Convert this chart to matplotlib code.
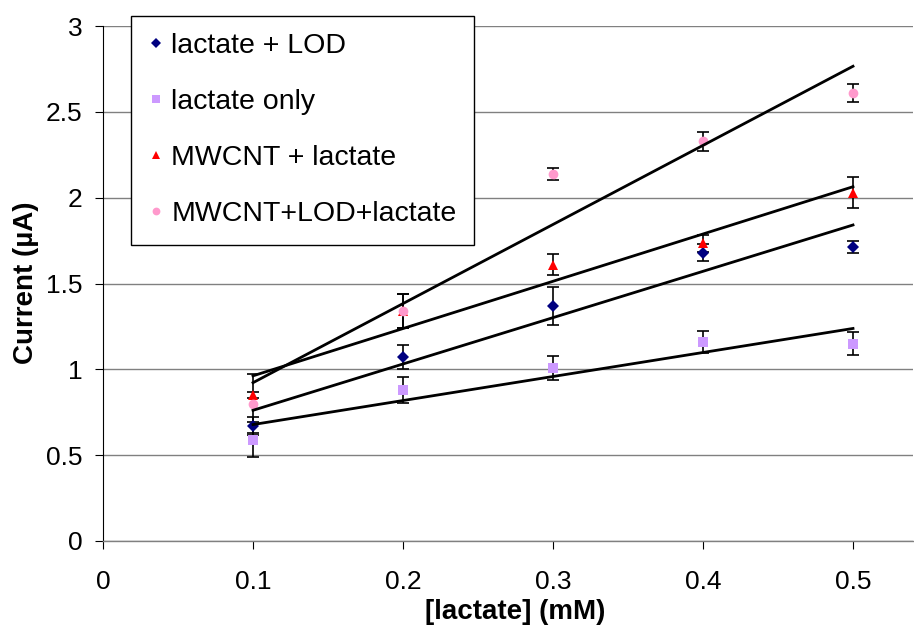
import matplotlib
matplotlib.use("Agg")
import matplotlib.pyplot as plt
from matplotlib.lines import Line2D
import numpy as np

plt.rcParams['font.family'] = ['Liberation Sans', 'DejaVu Sans']

# Data
conc = [0.1, 0.2, 0.3, 0.4, 0.5]
names = ["lactate + LOD", "lactate only", "MWCNT + lactate", "MWCNT+LOD+lactate"]
lod = [0.67, 1.07, 1.37, 1.68, 1.715]
lod_err = [0.05, 0.07, 0.11, 0.05, 0.035]
only = [0.59, 0.88, 1.01, 1.16, 1.15]
only_err = [0.10, 0.075, 0.07, 0.065, 0.065]
mw = [0.85, 1.34, 1.61, 1.735, 2.03]
mw_err = [0.02, 0.10, 0.06, 0.05, 0.09]
mwlod = [0.80, 1.34, 2.14, 2.33, 2.61]
mwlod_err = [0.17, 0.10, 0.035, 0.055, 0.05]
xticks = [0, 0.1, 0.2, 0.3, 0.4, 0.5]
yticks = [0, 0.5, 1, 1.5, 2, 2.5, 3]

series = [
    (lod, lod_err, 'D', '#000080', 6.0),
    (only, only_err, 's', '#CC99FF', 6.5),
    (mw, mw_err, '^', '#FF0000', 7.5),
    (mwlod, mwlod_err, 'o', '#FF99CC', 7.0),
]

fig = plt.figure(figsize=(9.14, 6.31), dpi=100)
ax = fig.add_axes([103/914, 1-540.9/631, 810/914, 514.8/631])

ax.set_xlim(0, 0.54)
ax.set_ylim(0, 3)
ax.set_xticks(xticks)
ax.set_xticklabels([f"{t:g}" for t in xticks])
ax.set_yticks(yticks)
ax.set_yticklabels([f"{t:g}" for t in yticks])

ax.yaxis.grid(True, color='#808080', linewidth=1.0)
ax.set_axisbelow(True)
for s in ['top', 'right']:
    ax.spines[s].set_visible(False)
ax.spines['left'].set_color('black')
ax.spines['left'].set_linewidth(0.8)
ax.spines['bottom'].set_color('#808080')
ax.spines['bottom'].set_linewidth(1.0)

ax.tick_params(axis='x', direction='out', length=6, width=0.8, pad=15, labelsize=19, color='black')
ax.tick_params(axis='y', direction='out', length=6, width=0.8, pad=9, labelsize=19, color='black')

xs = np.array(conc)
handles = []
for (vals, errs, mk, col, ms), nm in zip(series, names):
    ax.errorbar(conc, vals, yerr=errs, fmt='none', ecolor='black', elinewidth=1.2,
                capsize=4, capthick=1.2, zorder=3)
    ax.plot(conc, vals, linestyle='none', marker=mk, color=col, markersize=ms,
            markeredgewidth=0, zorder=4)
    k, b = np.polyfit(xs, np.array(vals), 1)
    ax.plot([xs[0], xs[-1]], [k*xs[0]+b, k*xs[-1]+b], color='black', linewidth=2.0, zorder=5)
    handles.append(Line2D([], [], linestyle='none', marker=mk, color=col,
                          markersize=ms*0.8, markeredgewidth=0))

ax.set_xlabel("[lactate] (mM)", fontsize=20, fontweight='bold')
ax.set_ylabel("Current (µA)", fontsize=20, fontweight='bold')
ax.xaxis.set_label_coords((515-103)/810, -(599-540.9)/514.8)
ax.yaxis.set_label_coords((39-103)/810, (540.9-283)/514.8)

leg = fig.legend(handles, names, loc='upper left', bbox_to_anchor=(131/914, 1-15.7/631),
                 bbox_transform=fig.transFigure, fontsize=20.5, frameon=True, fancybox=False,
                 edgecolor='black', framealpha=1, borderaxespad=0, handlelength=0.5,
                 handletextpad=0.3, labelspacing=1.05, borderpad=0.62)
leg.get_frame().set_linewidth(1.0)
leg.set_zorder(10)

fig.savefig("out.png", dpi=100)
